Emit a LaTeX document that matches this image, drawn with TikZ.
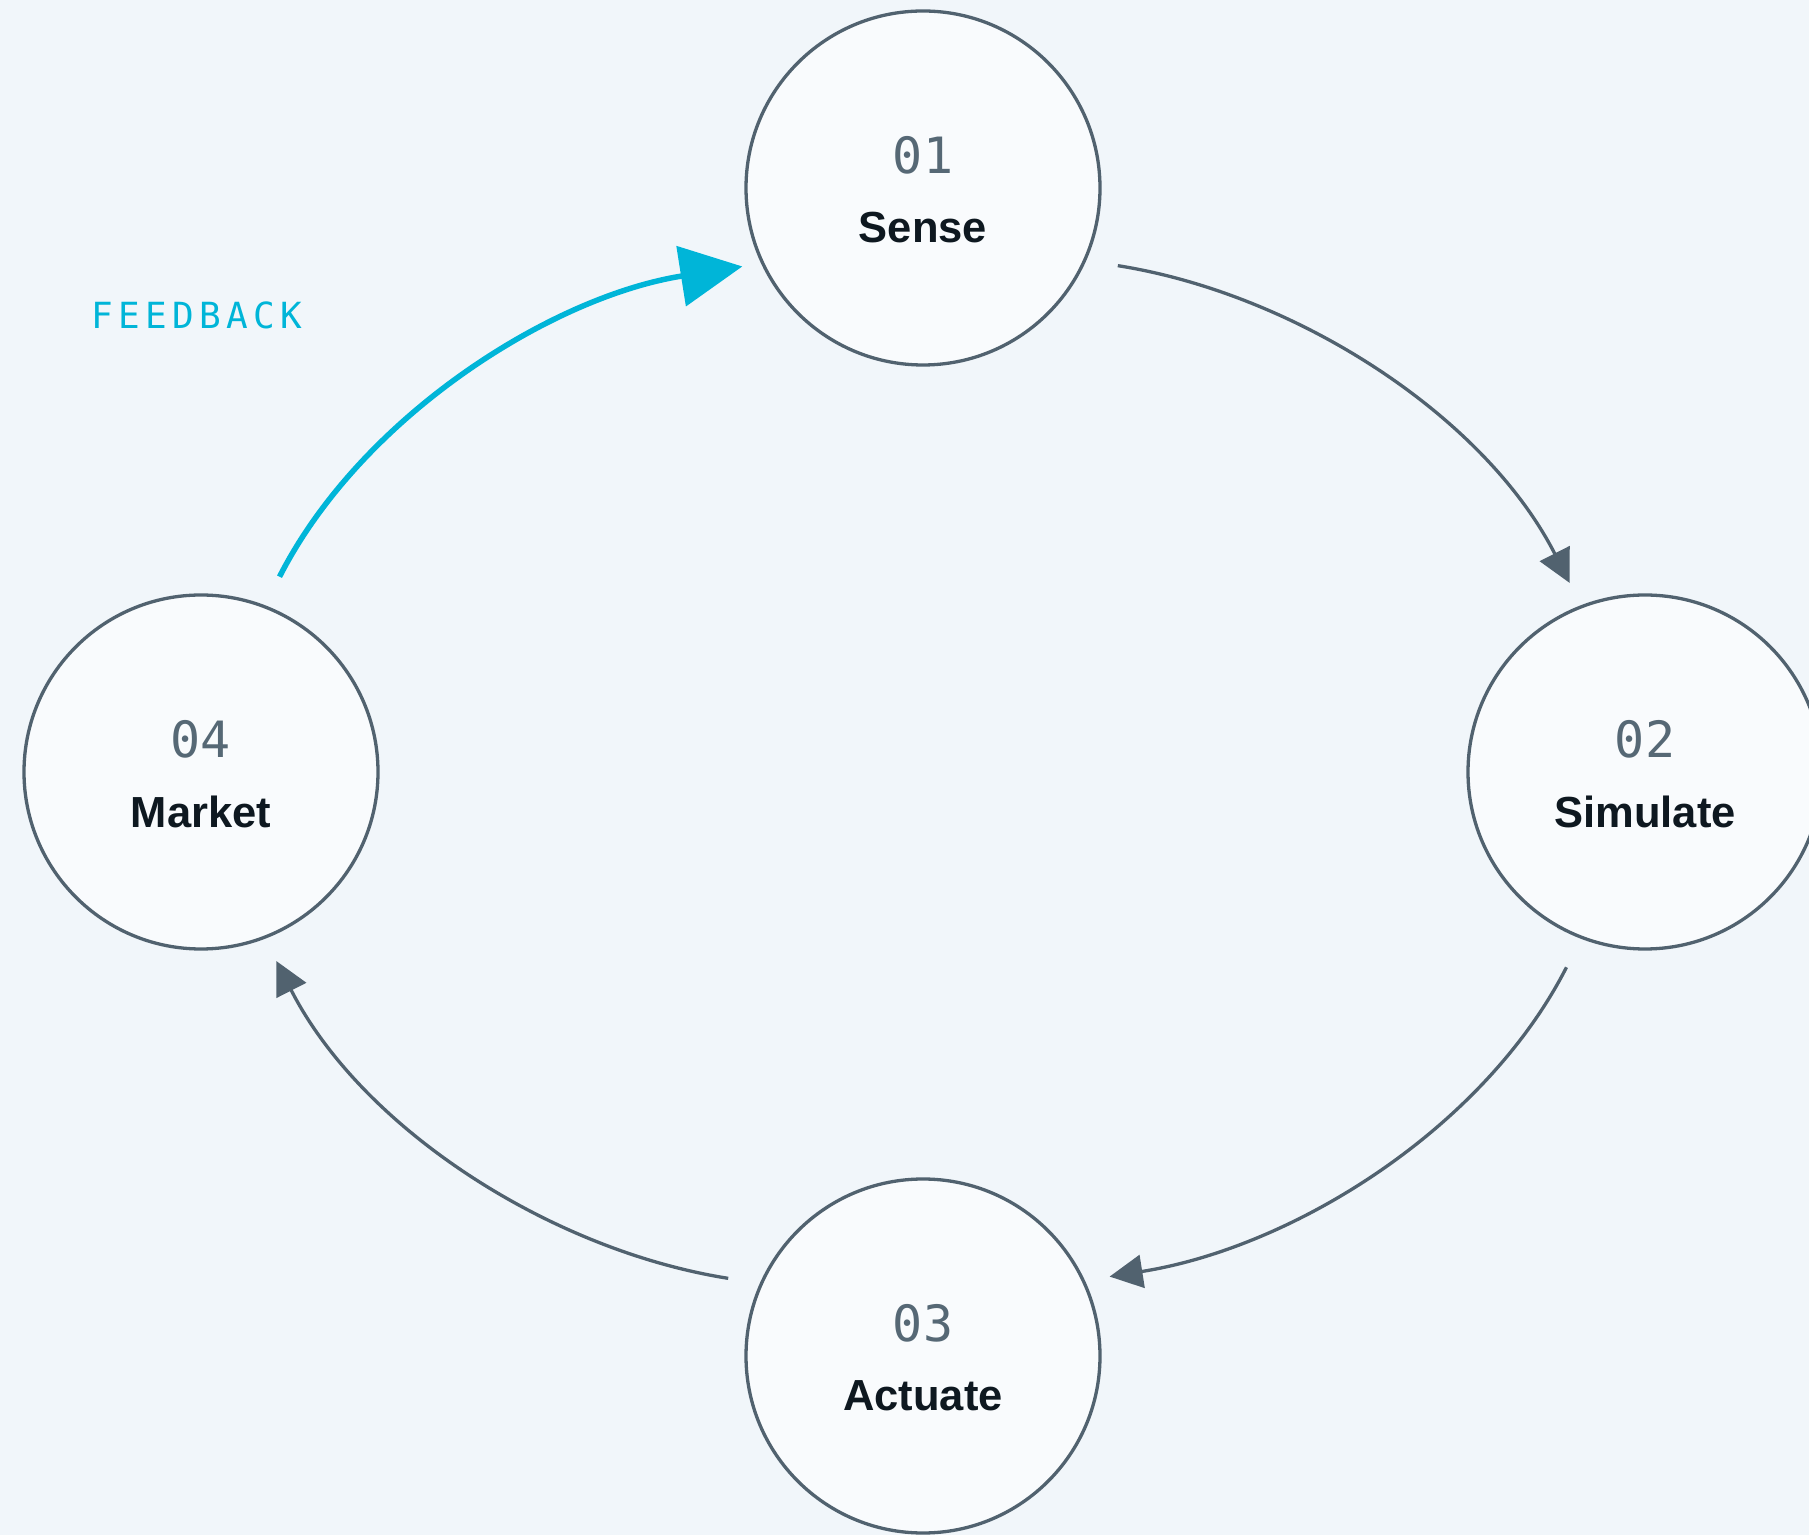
\documentclass[tikz,border=0pt]{standalone}
\usepackage{fontspec}
\setsansfont{Liberation Sans}
\newfontfamily\numfont{DejaVu Sans Mono}
\newfontfamily\fbfont[LetterSpace=15]{DejaVu Sans Mono}
\usetikzlibrary{arrows.meta}
\definecolor{bg}{HTML}{F1F6FA}
\definecolor{disc}{HTML}{F9FBFD}
\definecolor{rim}{HTML}{51626F}
\definecolor{ink}{HTML}{0E1820}
\definecolor{numgray}{HTML}{566875}
\definecolor{cyanfb}{HTML}{00B5D8}

\begin{document}
\begin{tikzpicture}[x=1pt,y=1pt,
  stage/.style={circle,draw=rim,fill=disc,line width=3.3pt,minimum size=354pt,inner sep=0pt},
  num/.style={font=\numfont\fontsize{50}{60}\selectfont,text=numgray,inner sep=0pt},
  lab/.style={font=\sffamily\bfseries\fontsize{43.5}{52}\selectfont,text=ink,inner sep=0pt},
  flow/.style={draw=rim,line width=3.3pt,-{Triangle[length=33pt,width=33pt]},
    shorten <=32pt,shorten >=25pt,looseness=0.9}]
\fill[bg] (0,0) rectangle (1809,1535);
\useasboundingbox (0,0) rectangle (1809,1535);

\node[stage] (sense) at (923,1347) {};
\node[stage] (sim) at (1645,763) {};
\node[stage] (act) at (923,179) {};
\node[stage] (mkt) at (201,763) {};

\node[num] (sensenum) at ([yshift=33pt]sense.center) {01};
\node[lab] (senselab) at ([yshift=-40pt]sense.center) {Sense};
\node[num] (simnum) at ([yshift=33pt]sim.center) {02};
\node[lab] (simlab) at ([yshift=-40pt]sim.center) {Simulate};
\node[num] (actnum) at ([yshift=33pt]act.center) {03};
\node[lab] (actlab) at ([yshift=-40pt]act.center) {Actuate};
\node[num] (mktnum) at ([yshift=33pt]mkt.center) {04};
\node[lab] (mktlab) at ([yshift=-40pt]mkt.center) {Market};

\node[font=\fbfont\fontsize{36}{42}\selectfont,text=cyanfb,inner sep=0pt] (fb) at (197,1220) {FEEDBACK};

\draw[flow] (sense.-24) to[out=-9,in=117] (sim.111);
\draw[flow] (sim.-111) to[out=-117,in=9] (act.25);
\draw[flow] (act.156) to[out=171,in=-63] (mkt.-69);
\draw[flow,draw=cyanfb,line width=5.5pt,-{Triangle[length=62pt,width=60pt]},shorten >=19pt]
  (mkt.69) to[out=63,in=189] (sense.-155);
\end{tikzpicture}
\end{document}
